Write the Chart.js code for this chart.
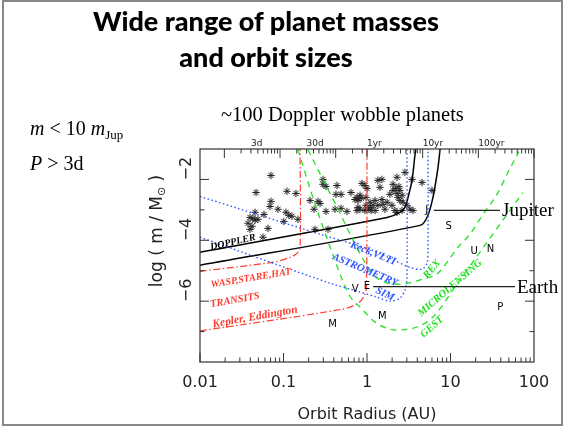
<!DOCTYPE html>
<html>
<head>
<meta charset="utf-8">
<script src="https://cdn.jsdelivr.net/npm/chart.js@4.4.0/dist/chart.umd.min.js"></script>
<style>
  html, body { margin: 0; padding: 0; background: #fff; }
  #slide { position: relative; width: 564px; height: 427px; overflow: hidden; }
  #frame { position: absolute; left: 2px; top: 0; width: 557px; height: 422px; border: 2px solid #888; }
  #chart { position: absolute; left: 0; top: 0; }
  .title { position: absolute; left: 0; top: 3px; width: 532px; text-align: center;
           font: 900 27px/36px "Lato", sans-serif; color: #000; }
  .serif { position: absolute; font-family: "Liberation Serif", "Times New Roman", serif;
           line-height: 1; color: #000; white-space: nowrap; }
  .serif i { font-style: italic; }
  .serif sub { font-size: 13px; vertical-align: -4px; }
</style>
</head>
<body>
<div id="slide">
  <div id="frame"></div>
  <canvas id="chart" width="564" height="427"></canvas>
  <div class="title">Wide range of planet masses<br>and orbit sizes</div>
  <div class="serif" style="left:30px; top:118px; font-size:20px;"><i>m</i> &lt; 10 <i>m</i><sub>Jup</sub></div>
  <div class="serif" style="left:30px; top:153px; font-size:20px;"><i>P</i> &gt; 3d</div>
  <div class="serif" style="left:221px; top:104px; font-size:20.5px;">~100 Doppler wobble planets</div>
</div>
<script>
// Doppler wobble planets: orbit radius (AU) and log10(m / Msun)
const starA = [
  0.0708, 0.0469, 0.110, 0.141, 0.0708, 0.0689, 0.0859, 0.0456, 0.0584, 0.107, 0.116,
  0.126, 0.149, 0.0397, 0.0431, 0.0456, 0.0495, 0.0376, 0.0420, 0.0652, 0.0397, 0.0568,
  0.208, 0.232, 0.259, 0.297, 0.297, 0.323, 0.437, 0.425, 0.489, 0.643, 0.323, 0.414,
  0.489, 0.238, 0.341, 0.759, 0.780, 0.848, 0.871, 0.946, 0.780, 0.973, 1.03,
  0.101,
  1.00, 1.35, 1.51, 1.43, 2.05, 2.29, 2.85, 3.46, 4.56, 6.0,
  0.825,
  1.09, 1.18, 1.25, 1.51, 1.55, 2.05, 2.22, 2.29, 2.48, 2.35, 2.48, 2.70, 1.99, 2.63, 3.27, 3.56,
  0.576, 0.759, 0.825, 1.12, 1.25, 1.64, 2.16, 2.29,
  0.973, 1.09, 1.88, 1.74, 3.01, 0.274,
  2.41, 2.63, 0.946, 1.35, 0.718
];
const starLogM = [
  -1.87, -2.43, -2.39, -2.46, -2.72, -2.89, -2.98, -3.08, -3.15, -3.08, -3.18,
  -3.21, -3.31, -3.25, -3.28, -3.34, -3.31, -3.44, -3.54, -3.61, -3.64, -3.90,
  -2.69, -2.98, -2.72, -2.00, -2.16, -2.23, -2.20, -2.49, -2.49, -2.43, -3.05, -2.98,
  -2.95, -3.64, -3.64, -2.59, -2.69, -2.62, -2.13, -2.20, -2.92, -2.85, -2.98,
  -3.38,
  -2.30, -2.03, -2.00, -2.26, -2.16, -1.93, -1.77, -2.00, -2.10, -2.36,
  -2.52,
  -2.75, -2.85, -2.69, -2.66, -2.82, -2.36, -2.30, -2.46, -2.36, -2.59, -2.69, -2.75, -2.85, -3.02, -2.98, -3.02,
  -3.05, -3.02, -2.98, -3.02, -3.02, -2.98, -3.02, -3.08,
  -2.59, -2.92, -2.49, -2.75, -2.85, -2.79,
  -2.23, -2.52, -3.02, -2.85, -2.66
];

// Doppler sensitivity limits (two survey depths)
const dopplerInnerA = [0.01, 1.74, 2.48, 2.85, 3.10, 3.46, 3.76, 3.86];
const dopplerInnerLogM = [-4.39, -3.25, -3.08, -2.92, -2.59, -2.03, -1.18, -0.98];
const dopplerOuterA = [0.01, 4.31, 5.23, 6.17, 7.08, 7.50];
const dopplerOuterLogM = [-4.82, -3.51, -3.25, -2.59, -1.61, -1.0];

// Transit surveys: ground (WASP, STARE, HAT) and space (Kepler, Eddington)
const wideTransitA = [0.01, 0.0748, 0.120, 0.145, 0.158, 0.158];
const wideTransitLogM = [-5.02, -4.72, -4.56, -4.43, -4.23, -1.0];
const spaceTransitA = [0.01, 0.516, 0.780, 0.921, 0.985, 1.0];
const spaceTransitLogM = [-6.98, -6.26, -6.07, -5.84, -5.54, -1.0];

// Astrometry: Keck/VLTI interferometers and SIM
const keckA = [0.01, 0.274, 1.09, 1.88, 3.27, 4.56, 5.23, 5.38, 5.38];
const keckLogM = [-2.56, -3.80, -4.30, -4.59, -4.89, -4.95, -4.75, -4.30, -1.0];
const simA = [0.01, 0.360, 0.759, 1.32, 1.88, 2.48, 2.85, 3.01, 3.01];
const simLogM = [-3.90, -5.41, -5.67, -5.87, -6.00, -5.90, -5.64, -5.21, -1.0];

// Microlensing: ground network and GEST
const lensA = [0.196, 0.450, 0.896, 1.25, 1.78, 2.48, 3.46, 4.95, 6.89, 12.3, 17.1, 24.5, 36.0, 48.8, 66.1];
const lensLogM = [-1.02, -2.98, -4.62, -5.18, -5.41, -5.44, -5.38, -5.25, -5.11, -4.23, -3.80, -3.15, -2.49, -1.77, -1.08];
const gestA = [0.149, 0.219, 0.341, 0.475, 0.626, 0.871, 1.25, 2.29, 3.97, 6.17, 11.96, 22.5, 41.4, 73.8];
const gestLogM = [-1.02, -2.49, -4.03, -5.11, -5.84, -6.26, -6.69, -6.95, -6.85, -6.52, -5.44, -4.39, -3.38, -2.43];

// Solar-system planets
const planetNames = ['M', 'V', 'E', 'M', 'J', 'S', 'U', 'N', 'P'];
const planetA = [0.387, 0.723, 1.0, 1.524, 5.2, 9.54, 19.2, 30.1, 39.5];
const planetLogM = [-6.78, -5.61, -5.52, -6.49, -3.02, -3.54, -4.36, -4.29, -6.2];

// Bottom axis decades and top-axis orbital periods
const radiusTicks = [0.01, 0.1, 1, 10, 100];
const periodLabels = ['3d', '30d', '1yr', '10yr', '100yr'];
const periodLabelYears = [3 / 365.25, 30 / 365.25, 1, 10, 100];

const RED = '#ff3c30', BLUE = '#2f55ff', GREEN = '#22e022', INK = '#222';

const pts = (xs, ys) => xs.map((v, i) => ({ x: v, y: ys[i] }));
const curve = (xs, ys, color, dash, width, smooth) => ({
  data: pts(xs, ys),
  showLine: true,
  borderColor: color,
  borderDash: dash,
  borderWidth: width,
  pointRadius: 0,
  fill: false,
  ...(smooth === 'monotone' ? { cubicInterpolationMode: 'monotone' } : { tension: smooth })
});

// Kepler's third law with a solar-mass host: a = P^(2/3)
const periodToA = (years) => Math.pow(years, 2 / 3);

// inline region labels, anchored in data units
const regionLabels = [
  { text: 'DOPPLER', a: 0.0248, m: -4.07, rot: -13, color: '#000', size: 10 },
  { text: 'WASP,STARE,HAT', a: 0.0408, m: -5.25, rot: -9.5, color: RED, size: 10 },
  { text: 'TRANSITS', a: 0.0262, m: -5.97, rot: -10, color: RED, size: 10.5 },
  { text: 'Kepler, Eddington', a: 0.0456, m: -6.52, rot: -10, color: RED, size: 11.5 },
  { text: 'Keck,VLTI', a: 1.18, m: -4.43, rot: 22, color: BLUE, size: 10.5 },
  { text: 'ASTROMETRY', a: 0.946, m: -4.98, rot: 23, color: BLUE, size: 10.5 },
  { text: 'SIM', a: 1.64, m: -5.77, rot: 25, color: BLUE, size: 10.5 },
  { text: 'REX', a: 6.0, m: -4.95, rot: -50, color: GREEN, size: 10.5 },
  { text: 'MICROLENSING', a: 9.86, m: -5.57, rot: -41, color: GREEN, size: 10.5 },
  { text: 'GEST', a: 6.0, m: -6.85, rot: -42, color: GREEN, size: 10.5 }
];

const decorations = {
  id: 'decorations',
  afterDatasetsDraw(chart) {
    const { ctx, chartArea: area, scales: { x, y } } = chart;
    ctx.save();

    // plot frame
    ctx.strokeStyle = '#333';
    ctx.lineWidth = 1.2;
    ctx.strokeRect(area.left, area.top, area.right - area.left, area.bottom - area.top);

    // inward ticks: radius along the bottom
    ctx.lineWidth = 1;
    ctx.beginPath();
    for (let d = 0.01; d < 99; d *= 10) {
      for (let k = 1; k <= 9; k++) {
        const px = x.getPixelForValue(d * k);
        const len = k === 1 ? 9 : 4.5;
        ctx.moveTo(px, area.bottom);
        ctx.lineTo(px, area.bottom - len);
      }
    }
    // orbital period along the top
    const days = [1, 2, 3, 4, 5, 6, 7, 8, 9, 10, 20, 30, 40, 50, 60, 70, 80, 90, 100, 200, 300];
    const years = [];
    for (let d = 1; d <= 100; d *= 10) for (let k = 1; k <= 9; k++) years.push(d * k);
    years.push(1000);
    const periodTicks = days.map(v => ({ yr: v / 365.25, major: v === 1 || v === 10 || v === 100 }))
      .concat(years.map(v => ({ yr: v, major: v === 1 || v === 10 || v === 100 || v === 1000 })));
    periodTicks.forEach(t => {
      const px = x.getPixelForValue(periodToA(t.yr));
      if (px < area.left || px > area.right + 0.5) return;
      ctx.moveTo(px, area.top);
      ctx.lineTo(px, area.top + (t.major ? 9 : 4.5));
    });
    // mass on both sides
    for (let v = -7; v <= -2; v++) {
      const py = y.getPixelForValue(v);
      const len = v % 2 === 0 ? 9 : 4.5;
      ctx.moveTo(area.left, py);
      ctx.lineTo(area.left + len, py);
      ctx.moveTo(area.right, py);
      ctx.lineTo(area.right - len, py);
    }
    ctx.stroke();

    // period labels, left-aligned on their ticks
    ctx.fillStyle = INK;
    ctx.font = '9px "DejaVu Sans"';
    ctx.textAlign = 'left';
    ctx.textBaseline = 'alphabetic';
    periodLabels.forEach((lab, i) => {
      ctx.fillText(lab, x.getPixelForValue(periodToA(periodLabelYears[i])), area.top - 3);
    });

    // mass labels, rotated
    ctx.font = '16px "DejaVu Sans"';
    [-2, -4, -6].forEach(v => {
      ctx.save();
      ctx.translate(area.left - 9, y.getPixelForValue(v) + 1);
      ctx.rotate(-Math.PI / 2);
      ctx.textAlign = 'left';
      ctx.textBaseline = 'alphabetic';
      ctx.fillText('\u2212' + Math.abs(v), 0, 0);
      ctx.restore();
    });

    // y-axis title: log ( m / M_sun )
    ctx.save();
    ctx.translate(162, 231);
    ctx.rotate(-Math.PI / 2);
    ctx.textBaseline = 'alphabetic';
    ctx.textAlign = 'left';
    const main = '17px "DejaVu Sans"', small = '11px "DejaVu Sans"';
    const parts = [['log ( m / M', main, 0], ['\u2299', small, 3], [' )', main, 0]];
    let total = 0;
    parts.forEach(p => { ctx.font = p[1]; total += ctx.measureText(p[0]).width; });
    let cx = -total / 2;
    parts.forEach(p => {
      ctx.font = p[1];
      ctx.fillText(p[0], cx, p[2]);
      cx += ctx.measureText(p[0]).width;
    });
    ctx.restore();

    // region labels
    regionLabels.forEach(l => {
      ctx.save();
      ctx.translate(x.getPixelForValue(l.a), y.getPixelForValue(l.m));
      ctx.rotate(l.rot * Math.PI / 180);
      ctx.font = 'italic bold ' + l.size + 'px "Liberation Serif"';
      ctx.fillStyle = l.color;
      ctx.textAlign = 'center';
      ctx.textBaseline = 'middle';
      ctx.fillText(l.text, 0, 0);
      ctx.restore();
    });

    // solar-system planets
    ctx.font = '10px "DejaVu Sans"';
    ctx.fillStyle = '#000';
    ctx.textAlign = 'center';
    ctx.textBaseline = 'middle';
    planetNames.forEach((n, i) => {
      ctx.fillText(n, x.getPixelForValue(planetA[i]), y.getPixelForValue(planetLogM[i]));
    });

    // Jupiter and Earth call-outs
    const jx = x.getPixelForValue(planetA[4]), jy = y.getPixelForValue(planetLogM[4]);
    const ex = x.getPixelForValue(planetA[2]), ey = y.getPixelForValue(planetLogM[2]);
    ctx.strokeStyle = '#222';
    ctx.lineWidth = 1.3;
    ctx.beginPath();
    ctx.moveTo(jx + 7, jy);
    ctx.lineTo(500, jy);
    ctx.moveTo(ex + 6, ey);
    ctx.lineTo(515, ey);
    ctx.stroke();
    ctx.font = '19px "Liberation Serif"';
    ctx.textAlign = 'left';
    ctx.fillText('Jupiter', 502, jy + 1);
    ctx.fillText('Earth', 517, ey + 1);

    ctx.restore();
  }
};

new Chart(document.getElementById('chart'), {
  type: 'scatter',
  data: {
    datasets: [
      curve(gestA, gestLogM, GREEN, [6, 5], 1.3, 'monotone'),
      curve(lensA, lensLogM, GREEN, [6, 5], 1.3, 'monotone'),
      curve(keckA, keckLogM, BLUE, [1.5, 2.5], 1.4, 0.3),
      curve(simA, simLogM, BLUE, [1.5, 2.5], 1.4, 0.3),
      curve(wideTransitA, wideTransitLogM, RED, [7, 2.5, 1.5, 2.5], 1.2, 0.3),
      curve(spaceTransitA, spaceTransitLogM, RED, [7, 2.5, 1.5, 2.5], 1.2, 0.3),
      curve(dopplerInnerA, dopplerInnerLogM, '#000', [], 1.5, 0.3),
      curve(dopplerOuterA, dopplerOuterLogM, '#000', [], 1.5, 0.3),
      {
        data: pts(starA, starLogM),
        pointStyle: 'star',
        pointRadius: 3.7,
        borderColor: '#222',
        borderWidth: 1,
        showLine: false
      }
    ]
  },
  options: {
    responsive: false,
    animation: false,
    layout: { padding: { left: 140, top: 149, right: 30, bottom: 0 } },
    plugins: { legend: { display: false }, tooltip: { enabled: false } },
    scales: {
      x: {
        type: 'logarithmic',
        position: 'bottom',
        min: 0.01,
        max: 100,
        grid: { display: false },
        border: { display: false },
        afterBuildTicks: s => { s.ticks = radiusTicks.map(v => ({ value: v })); },
        afterFit: s => { s.height = 65; },
        ticks: {
          padding: 3,
          color: INK,
          font: { family: 'DejaVu Sans', size: 16 },
          maxRotation: 0,
          callback: v => String(v)
        },
        title: {
          display: true,
          text: 'Orbit Radius (AU)',
          color: INK,
          font: { family: 'DejaVu Sans', size: 16 },
          padding: { top: 0, bottom: 3 }
        }
      },
      y: {
        type: 'linear',
        position: 'left',
        min: -8,
        max: -1,
        grid: { display: false },
        border: { display: false },
        ticks: { display: false },
        afterFit: s => { s.width = 60; }
      }
    }
  },
  plugins: [decorations]
});
</script>
</body>
</html>
